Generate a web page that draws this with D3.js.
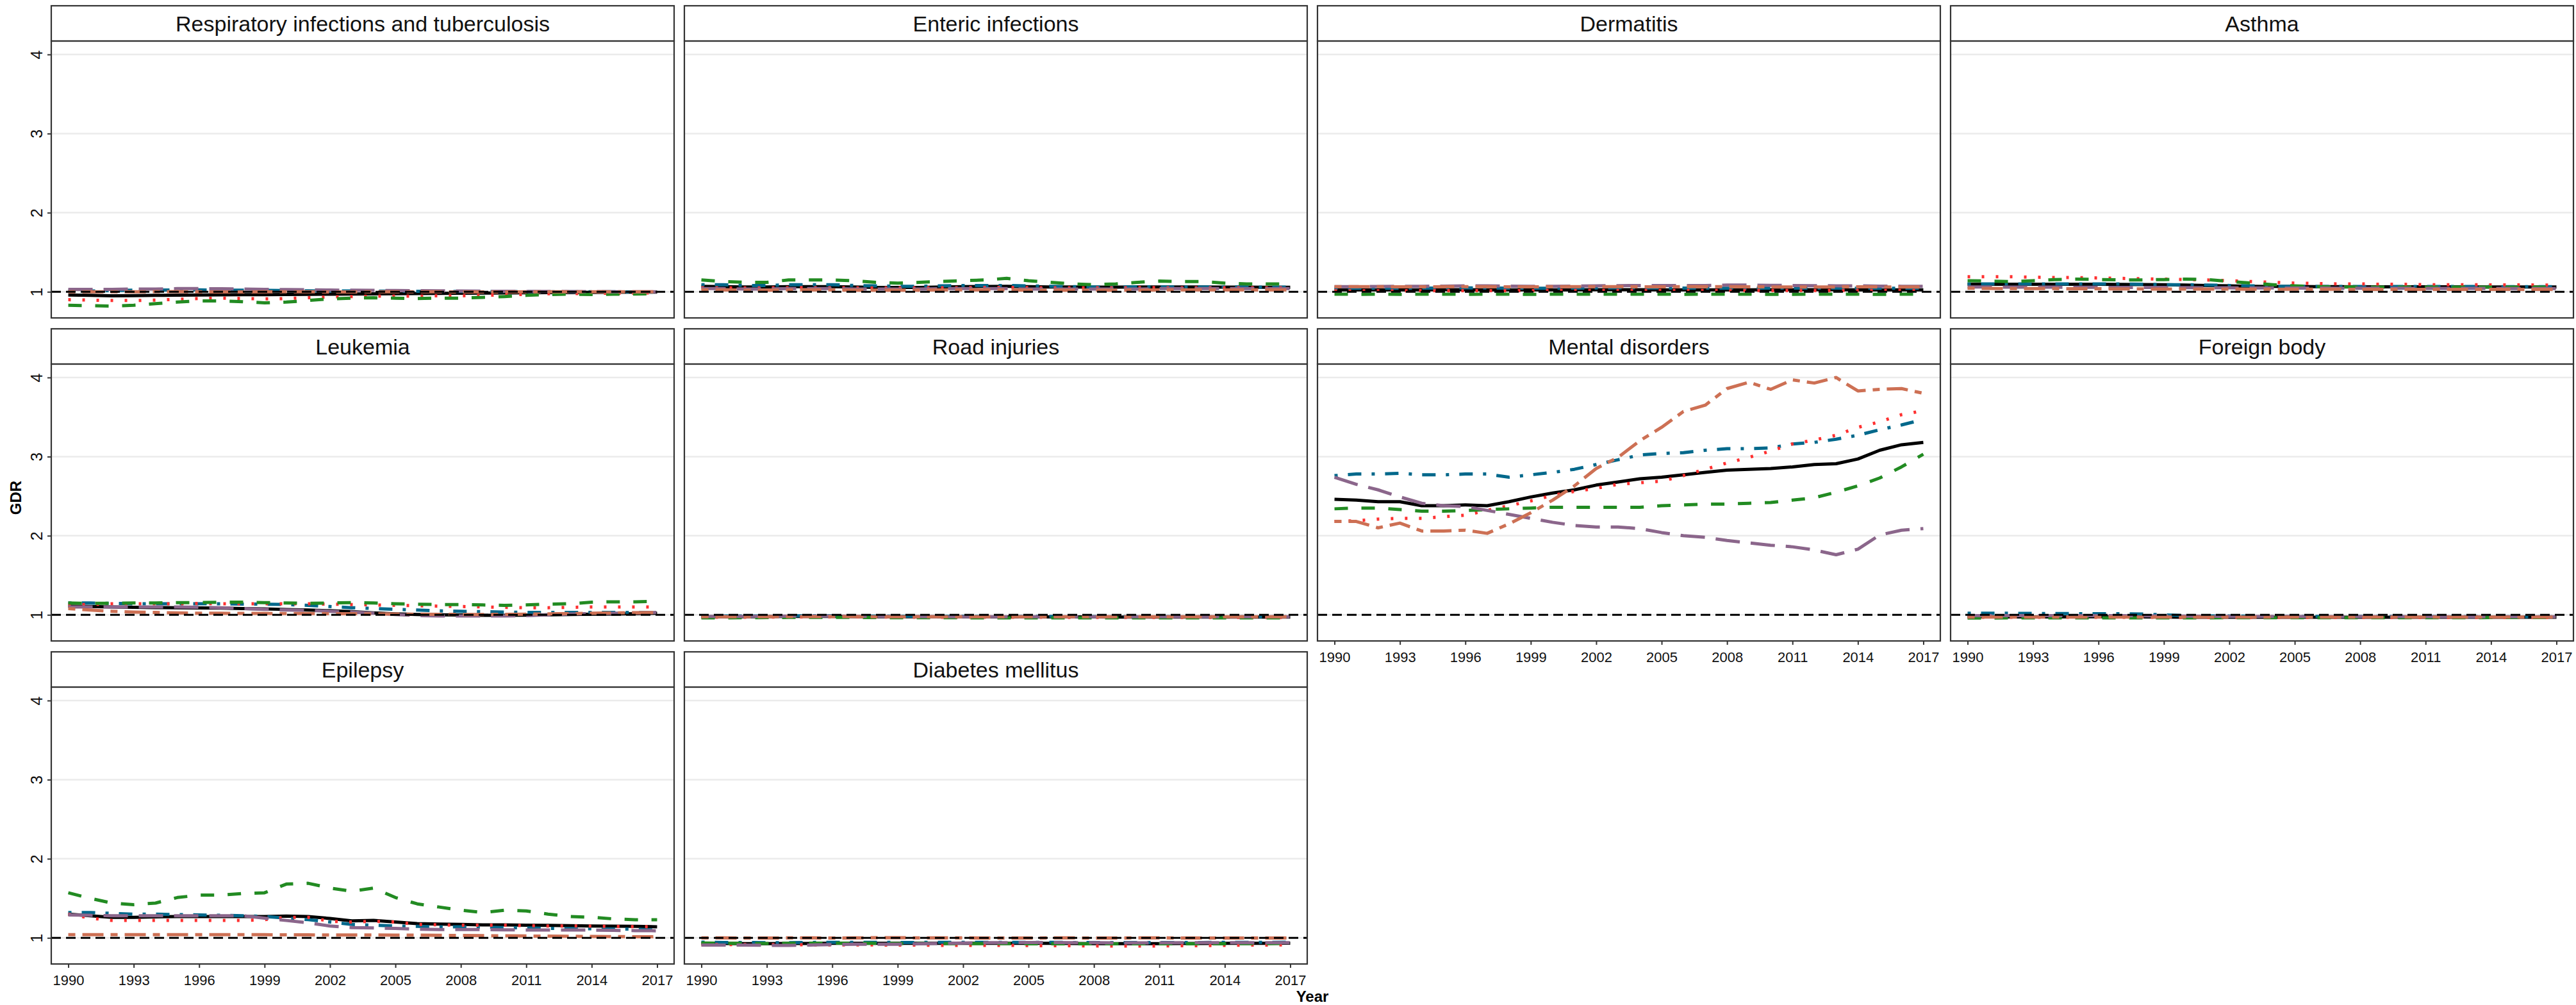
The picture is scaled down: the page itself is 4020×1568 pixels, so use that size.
<!DOCTYPE html>
<html>
<head>
<meta charset="utf-8">
<script src="https://cdn.jsdelivr.net/npm/d3@7"></script>
<style>
  body { margin: 0; background: #fff; }
  text { font-family: "Liberation Sans", Arial, sans-serif; }
</style>
</head>
<body>
<div id="chart"></div>
<script>

// ---- data ----
const years = [1990, 1991, 1992, 1993, 1994, 1995, 1996, 1997, 1998, 1999, 2000, 2001, 2002, 2003,
               2004, 2005, 2006, 2007, 2008, 2009, 2010, 2011, 2012, 2013, 2014, 2015, 2016, 2017];
const xTicks = [1990, 1993, 1996, 1999, 2002, 2005, 2008, 2011, 2014, 2017];
const yTicks = [1, 2, 3, 4];

const causes = ["Respiratory infections and tuberculosis", "Enteric infections", "Dermatitis", "Asthma",
                "Leukemia", "Road injuries", "Mental disorders", "Foreign body",
                "Epilepsy", "Diabetes mellitus"];

// six series, same order in every panel
const seriesKeys = ["black", "blue", "red", "green", "purple", "orange"];
const seriesColors = ["#000000", "#00688b", "#ff3030", "#228b22", "#8b668b", "#cd7054"];
const seriesDash = [null, "5,16,21,16", "4,18", "21,21", "38,17", "11,11,33,11"];

// Respiratory infections and tuberculosis
const respBlack  = [0.96,0.955,0.95,0.952,0.955,0.958,0.96,0.962,0.963,0.964,0.966,0.968,0.97,0.972,0.974,0.976,0.978,0.98,0.982,0.984,0.986,0.988,0.99,0.991,0.992,0.994,0.996,0.997];
const respBlue   = [1.01,1.01,1.015,1.02,1.02,1.025,1.025,1.02,1.02,1.018,1.015,1.012,1.01,1.01,1.008,1.008,1.006,1.005,1.005,1.004,1.003,1.002,1.0,1.0,1.0,1.0,0.998,0.996];
const respRed    = [0.9,0.895,0.89,0.89,0.895,0.905,0.915,0.92,0.915,0.91,0.915,0.925,0.935,0.94,0.945,0.945,0.945,0.95,0.95,0.955,0.96,0.968,0.975,0.978,0.98,0.982,0.984,0.986];
const respGreen  = [0.83,0.825,0.82,0.83,0.85,0.87,0.885,0.885,0.875,0.86,0.87,0.89,0.91,0.92,0.925,0.92,0.915,0.92,0.92,0.93,0.94,0.955,0.965,0.97,0.965,0.97,0.972,0.975];
const respPurple = [1.03,1.03,1.03,1.035,1.035,1.04,1.04,1.038,1.035,1.03,1.028,1.025,1.022,1.02,1.018,1.016,1.014,1.012,1.01,1.008,1.006,1.005,1.004,1.003,1.002,1.001,1.0,1.0];
const respOrange = [1.0,1.0,1.0,1.0,1.002,1.002,1.0,0.998,0.998,1.0,1.0,1.0,0.998,0.998,1.0,1.0,1.0,1.0,0.998,0.998,0.998,1.0,1.0,1.0,1.0,1.0,1.0,1.0];

// Enteric infections
const entBlack  = [1.07,1.065,1.06,1.06,1.065,1.065,1.065,1.06,1.055,1.055,1.055,1.06,1.065,1.068,1.07,1.065,1.06,1.06,1.058,1.058,1.06,1.06,1.06,1.06,1.058,1.058,1.056,1.056];
const entBlue   = [1.09,1.09,1.08,1.08,1.09,1.09,1.09,1.08,1.075,1.07,1.07,1.075,1.08,1.08,1.08,1.075,1.07,1.065,1.06,1.06,1.062,1.062,1.06,1.06,1.06,1.06,1.058,1.058];
const entRed    = [1.05,1.05,1.048,1.05,1.052,1.052,1.05,1.05,1.048,1.048,1.05,1.05,1.052,1.054,1.055,1.052,1.05,1.05,1.05,1.05,1.052,1.052,1.05,1.05,1.05,1.05,1.05,1.05];
const entGreen  = [1.15,1.13,1.12,1.12,1.15,1.15,1.15,1.14,1.12,1.11,1.12,1.13,1.14,1.15,1.17,1.14,1.12,1.1,1.09,1.1,1.12,1.135,1.13,1.13,1.11,1.1,1.1,1.1];
const entPurple = [1.04,1.04,1.035,1.035,1.04,1.04,1.04,1.035,1.035,1.035,1.035,1.04,1.04,1.04,1.04,1.035,1.035,1.035,1.035,1.035,1.035,1.04,1.04,1.04,1.04,1.04,1.04,1.04];
const entOrange = [1.025,1.025,1.02,1.02,1.025,1.025,1.025,1.02,1.02,1.02,1.02,1.025,1.025,1.025,1.025,1.02,1.02,1.02,1.02,1.02,1.02,1.025,1.025,1.025,1.025,1.025,1.025,1.025];

// Dermatitis
const dermBlack  = [1.025,1.025,1.024,1.024,1.025,1.026,1.026,1.025,1.025,1.024,1.024,1.025,1.026,1.026,1.026,1.025,1.025,1.025,1.025,1.025,1.026,1.026,1.026,1.026,1.025,1.025,1.025,1.025];
const dermBlue   = [1.045,1.045,1.044,1.045,1.046,1.048,1.05,1.048,1.046,1.045,1.045,1.046,1.048,1.05,1.05,1.048,1.046,1.046,1.045,1.045,1.046,1.046,1.046,1.046,1.045,1.045,1.044,1.044];
const dermRed    = [1.012,1.012,1.013,1.013,1.014,1.014,1.015,1.015,1.015,1.015,1.016,1.016,1.016,1.016,1.016,1.016,1.016,1.016,1.016,1.016,1.017,1.017,1.017,1.017,1.017,1.017,1.017,1.017];
const dermGreen  = [0.97,0.968,0.97,0.968,0.97,0.97,0.968,0.97,0.97,0.968,0.97,0.97,0.97,0.97,0.97,0.97,0.968,0.97,0.97,0.97,0.968,0.968,0.97,0.97,0.97,0.968,0.97,0.97];
const dermPurple = [1.065,1.065,1.068,1.07,1.07,1.072,1.075,1.075,1.072,1.07,1.07,1.072,1.075,1.078,1.08,1.08,1.078,1.08,1.085,1.085,1.082,1.08,1.078,1.075,1.075,1.072,1.07,1.07];
const dermOrange = [1.065,1.065,1.065,1.062,1.062,1.065,1.065,1.065,1.062,1.062,1.065,1.065,1.065,1.065,1.062,1.062,1.065,1.065,1.065,1.062,1.062,1.06,1.06,1.062,1.062,1.062,1.06,1.06];

// Asthma
const asthBlack  = [1.095,1.095,1.095,1.095,1.095,1.095,1.095,1.094,1.092,1.09,1.085,1.08,1.075,1.07,1.068,1.066,1.064,1.064,1.062,1.062,1.062,1.062,1.062,1.062,1.06,1.06,1.06,1.06];
const asthBlue   = [1.1,1.1,1.1,1.1,1.1,1.1,1.1,1.1,1.095,1.09,1.09,1.085,1.08,1.075,1.07,1.07,1.068,1.068,1.068,1.066,1.066,1.066,1.066,1.066,1.066,1.065,1.065,1.065];
const asthRed    = [1.19,1.19,1.19,1.185,1.18,1.18,1.175,1.17,1.165,1.16,1.155,1.15,1.14,1.13,1.12,1.11,1.105,1.1,1.1,1.095,1.095,1.09,1.09,1.09,1.088,1.088,1.086,1.085];
const asthGreen  = [1.14,1.135,1.13,1.14,1.155,1.16,1.155,1.15,1.15,1.155,1.16,1.155,1.13,1.11,1.09,1.075,1.065,1.06,1.06,1.058,1.058,1.058,1.058,1.058,1.058,1.058,1.058,1.058];
const asthPurple = [1.06,1.06,1.058,1.058,1.058,1.056,1.056,1.055,1.055,1.054,1.052,1.05,1.05,1.048,1.048,1.046,1.046,1.045,1.045,1.044,1.044,1.043,1.043,1.042,1.042,1.041,1.04,1.04];
const asthOrange = [1.045,1.042,1.04,1.04,1.04,1.038,1.038,1.036,1.036,1.035,1.035,1.034,1.034,1.033,1.033,1.032,1.032,1.032,1.03,1.03,1.03,1.03,1.03,1.03,1.03,1.03,1.03,1.03];

// Leukemia
const leukBlack  = [1.11,1.105,1.1,1.095,1.092,1.09,1.088,1.085,1.08,1.075,1.068,1.06,1.052,1.04,1.025,1.012,1.005,1.0,0.998,0.995,0.995,0.997,1.0,1.005,1.008,1.01,1.015,1.02];
const leukBlue   = [1.15,1.15,1.145,1.14,1.14,1.14,1.14,1.14,1.135,1.135,1.13,1.12,1.105,1.09,1.08,1.07,1.06,1.05,1.045,1.04,1.035,1.03,1.03,1.03,1.03,1.03,1.03,1.03];
const leukRed    = [1.13,1.13,1.14,1.14,1.14,1.14,1.145,1.14,1.14,1.14,1.14,1.14,1.135,1.13,1.125,1.12,1.115,1.11,1.105,1.1,1.095,1.09,1.09,1.095,1.1,1.1,1.1,1.1];
const leukGreen  = [1.15,1.145,1.145,1.15,1.15,1.155,1.155,1.16,1.16,1.155,1.15,1.145,1.15,1.155,1.15,1.14,1.135,1.13,1.13,1.125,1.12,1.125,1.135,1.14,1.16,1.165,1.165,1.17];
const leukPurple = [1.1,1.1,1.1,1.1,1.1,1.1,1.095,1.09,1.08,1.07,1.06,1.055,1.045,1.035,1.02,1.005,0.99,0.985,0.985,0.985,0.985,0.99,1.0,1.01,1.015,1.02,1.025,1.03];
const leukOrange = [1.08,1.06,1.045,1.035,1.03,1.025,1.02,1.02,1.018,1.018,1.016,1.016,1.015,1.015,1.012,1.01,1.008,1.006,1.005,1.005,1.006,1.008,1.012,1.016,1.02,1.024,1.027,1.03];

// Road injuries
const roadBlack  = [0.975,0.975,0.975,0.978,0.98,0.98,0.98,0.978,0.976,0.975,0.975,0.975,0.975,0.974,0.974,0.974,0.973,0.973,0.973,0.972,0.972,0.972,0.972,0.972,0.972,0.972,0.972,0.972];
const roadBlue   = [0.985,0.985,0.985,0.986,0.988,0.988,0.987,0.985,0.984,0.983,0.982,0.982,0.981,0.98,0.98,0.98,0.979,0.978,0.978,0.978,0.977,0.977,0.977,0.976,0.976,0.976,0.976,0.976];
const roadRed    = [0.97,0.97,0.97,0.972,0.974,0.975,0.975,0.974,0.972,0.97,0.97,0.97,0.97,0.97,0.969,0.969,0.969,0.968,0.968,0.968,0.968,0.968,0.968,0.968,0.968,0.968,0.968,0.968];
const roadGreen  = [0.962,0.962,0.963,0.965,0.967,0.968,0.968,0.967,0.965,0.964,0.963,0.963,0.963,0.962,0.962,0.962,0.962,0.962,0.962,0.962,0.962,0.962,0.962,0.962,0.962,0.962,0.962,0.962];
const roadPurple = [0.98,0.98,0.98,0.982,0.984,0.985,0.984,0.982,0.98,0.978,0.977,0.976,0.975,0.975,0.975,0.975,0.975,0.975,0.975,0.975,0.975,0.975,0.975,0.975,0.975,0.975,0.975,0.975];
const roadOrange = [0.975,0.975,0.975,0.976,0.978,0.978,0.978,0.977,0.976,0.975,0.975,0.975,0.975,0.975,0.975,0.975,0.975,0.975,0.975,0.975,0.975,0.975,0.975,0.975,0.975,0.975,0.975,0.975];

// Mental disorders
const mentBlack  = [2.46,2.45,2.43,2.43,2.38,2.38,2.39,2.38,2.43,2.49,2.54,2.58,2.64,2.68,2.72,2.74,2.77,2.80,2.83,2.84,2.85,2.87,2.90,2.91,2.97,3.08,3.15,3.18];
const mentBlue   = [2.76,2.78,2.78,2.79,2.77,2.77,2.78,2.78,2.74,2.77,2.80,2.84,2.90,2.96,3.02,3.04,3.05,3.08,3.10,3.10,3.11,3.16,3.18,3.22,3.27,3.34,3.40,3.47];
const mentRed    = [2.18,2.19,2.21,2.22,2.22,2.24,2.26,2.32,2.38,2.44,2.51,2.56,2.60,2.65,2.67,2.69,2.76,2.84,2.92,2.99,3.07,3.16,3.21,3.27,3.37,3.44,3.53,3.58];
const mentGreen  = [2.34,2.35,2.35,2.33,2.31,2.31,2.32,2.33,2.34,2.35,2.36,2.36,2.36,2.36,2.36,2.38,2.39,2.40,2.40,2.41,2.42,2.45,2.48,2.55,2.63,2.73,2.87,3.03];
const mentPurple = [2.74,2.65,2.58,2.49,2.41,2.38,2.37,2.32,2.27,2.22,2.17,2.13,2.11,2.11,2.09,2.04,2.00,1.98,1.94,1.91,1.88,1.86,1.82,1.76,1.83,2.01,2.07,2.09];
const mentOrange = [2.18,2.18,2.10,2.16,2.06,2.06,2.07,2.03,2.15,2.29,2.45,2.63,2.85,2.99,3.20,3.37,3.57,3.65,3.86,3.94,3.85,3.97,3.93,4.0,3.83,3.85,3.86,3.80];

// Foreign body
const forBlack  = [0.975,0.975,0.974,0.974,0.974,0.975,0.975,0.975,0.974,0.972,0.97,0.97,0.97,0.97,0.97,0.97,0.97,0.97,0.97,0.97,0.97,0.97,0.97,0.97,0.97,0.97,0.97,0.97];
const forBlue   = [1.02,1.02,1.02,1.018,1.016,1.015,1.015,1.015,1.01,1.0,0.99,0.985,0.985,0.982,0.98,0.98,0.98,0.98,0.98,0.98,0.978,0.978,0.978,0.978,0.976,0.976,0.976,0.975];
const forRed    = [0.97,0.97,0.97,0.97,0.97,0.97,0.97,0.97,0.97,0.968,0.966,0.966,0.966,0.966,0.966,0.966,0.966,0.966,0.966,0.966,0.966,0.966,0.966,0.966,0.966,0.966,0.966,0.966];
const forGreen  = [0.96,0.96,0.961,0.961,0.962,0.962,0.962,0.962,0.962,0.962,0.962,0.962,0.963,0.963,0.963,0.963,0.963,0.963,0.964,0.964,0.964,0.964,0.964,0.964,0.965,0.965,0.965,0.965];
const forPurple = [0.99,0.99,0.99,0.99,0.99,0.99,0.99,0.99,0.988,0.986,0.984,0.982,0.98,0.98,0.98,0.98,0.978,0.978,0.978,0.978,0.978,0.978,0.976,0.976,0.976,0.976,0.976,0.976];
const forOrange = [0.972,0.972,0.972,0.972,0.972,0.972,0.972,0.972,0.972,0.972,0.972,0.972,0.972,0.972,0.972,0.972,0.972,0.972,0.972,0.972,0.972,0.972,0.972,0.972,0.972,0.972,0.972,0.972];

// Epilepsy
const epiBlack  = [1.3,1.28,1.26,1.26,1.265,1.27,1.27,1.27,1.27,1.27,1.275,1.27,1.245,1.215,1.22,1.2,1.18,1.175,1.17,1.165,1.165,1.16,1.158,1.155,1.15,1.148,1.145,1.14];
const epiBlue   = [1.32,1.32,1.31,1.3,1.3,1.295,1.29,1.285,1.28,1.27,1.25,1.23,1.2,1.17,1.16,1.15,1.145,1.14,1.14,1.135,1.13,1.125,1.12,1.118,1.115,1.112,1.11,1.1];
const epiRed    = [1.3,1.25,1.22,1.22,1.22,1.22,1.22,1.22,1.22,1.23,1.26,1.26,1.21,1.2,1.21,1.2,1.17,1.165,1.16,1.16,1.16,1.155,1.15,1.15,1.148,1.145,1.142,1.14];
const epiGreen  = [1.57,1.5,1.44,1.42,1.44,1.51,1.54,1.54,1.56,1.57,1.68,1.69,1.63,1.59,1.63,1.51,1.43,1.39,1.35,1.32,1.35,1.34,1.3,1.27,1.26,1.24,1.23,1.23];
const epiPurple = [1.29,1.285,1.28,1.28,1.28,1.28,1.28,1.28,1.28,1.25,1.22,1.19,1.15,1.13,1.125,1.12,1.11,1.105,1.105,1.105,1.102,1.1,1.1,1.1,1.098,1.095,1.092,1.09];
const epiOrange = [1.04,1.04,1.04,1.04,1.04,1.04,1.04,1.04,1.04,1.04,1.038,1.038,1.036,1.036,1.036,1.035,1.034,1.032,1.03,1.028,1.026,1.024,1.022,1.02,1.018,1.016,1.015,1.015];

// Diabetes mellitus
const diabBlack  = [0.932,0.93,0.928,0.928,0.93,0.93,0.932,0.932,0.932,0.932,0.932,0.932,0.932,0.932,0.932,0.932,0.932,0.93,0.928,0.928,0.928,0.928,0.93,0.93,0.932,0.932,0.932,0.934];
const diabBlue   = [0.945,0.942,0.942,0.94,0.94,0.942,0.944,0.944,0.944,0.942,0.942,0.944,0.944,0.944,0.944,0.944,0.944,0.942,0.942,0.942,0.942,0.942,0.942,0.942,0.944,0.944,0.944,0.945];
const diabRed    = [0.915,0.915,0.915,0.915,0.915,0.912,0.912,0.912,0.91,0.91,0.908,0.905,0.905,0.905,0.905,0.903,0.9,0.9,0.898,0.897,0.897,0.898,0.9,0.902,0.905,0.908,0.91,0.912];
const diabGreen  = [0.935,0.932,0.93,0.93,0.932,0.934,0.934,0.934,0.932,0.93,0.93,0.928,0.928,0.928,0.928,0.926,0.925,0.925,0.925,0.925,0.925,0.925,0.926,0.926,0.926,0.928,0.928,0.93];
const diabPurple = [0.91,0.91,0.91,0.905,0.905,0.91,0.915,0.92,0.92,0.92,0.925,0.93,0.935,0.94,0.94,0.942,0.942,0.94,0.94,0.938,0.938,0.938,0.94,0.94,0.94,0.94,0.94,0.94];
const diabOrange = [1.0,1.0,0.998,0.998,1.0,1.0,0.998,1.0,1.002,1.002,1.0,1.0,1.0,0.998,0.998,0.998,1.0,1.0,0.998,0.998,1.0,1.0,0.998,0.998,0.998,0.998,0.998,0.998];

// one row per panel, series in seriesKeys order
const panelSeries = [
  [respBlack, respBlue, respRed, respGreen, respPurple, respOrange],
  [entBlack, entBlue, entRed, entGreen, entPurple, entOrange],
  [dermBlack, dermBlue, dermRed, dermGreen, dermPurple, dermOrange],
  [asthBlack, asthBlue, asthRed, asthGreen, asthPurple, asthOrange],
  [leukBlack, leukBlue, leukRed, leukGreen, leukPurple, leukOrange],
  [roadBlack, roadBlue, roadRed, roadGreen, roadPurple, roadOrange],
  [mentBlack, mentBlue, mentRed, mentGreen, mentPurple, mentOrange],
  [forBlack, forBlue, forRed, forGreen, forPurple, forOrange],
  [epiBlack, epiBlue, epiRed, epiGreen, epiPurple, epiOrange],
  [diabBlack, diabBlue, diabRed, diabGreen, diabPurple, diabOrange]
];

// ---- layout ----
const width = 4020;
const height = 1568;
const nCols = 4;
const plotLeft = 80;
const colStep = 988;
const panelW = 972;
const rowTop = 9;
const rowStep = 504;
const stripH = 55;
const panelH = 432;

const xScale = d3.scaleLinear()
  .domain([1990 - 0.78, 2017 + 0.78])
  .range([0, panelW]);
const yScale = d3.scaleLinear()
  .domain([0.67, 4.17])
  .range([panelH, 0]);

const makeLine = d3.line()
  .x((d, i) => xScale(years[i]))
  .y(d => yScale(d));

const svg = d3.select("#chart")
  .append("svg")
  .attr("width", width)
  .attr("height", height)
  .style("background", "#fff");

causes.forEach((cause, p) => {
  const r = Math.floor(p / nCols);
  const c = p % nCols;
  const g = svg.append("g")
    .attr("transform", `translate(${plotLeft + c * colStep}, ${rowTop + r * rowStep})`);

  // strip
  g.append("rect")
    .attr("width", panelW).attr("height", stripH)
    .attr("fill", "#fff").attr("stroke", "#333").attr("stroke-width", 2.2);
  g.append("text")
    .attr("x", panelW / 2).attr("y", stripH / 2 + 12)
    .attr("text-anchor", "middle")
    .attr("font-size", 34)
    .attr("fill", "#111")
    .text(cause);

  const pg = g.append("g").attr("transform", `translate(0, ${stripH})`);

  // grid
  pg.append("g").selectAll("line").data(yTicks).enter()
    .append("line")
    .attr("x1", 0).attr("x2", panelW)
    .attr("y1", d => yScale(d)).attr("y2", d => yScale(d))
    .attr("stroke", "#ebebeb").attr("stroke-width", 2.5);

  // series lines
  pg.append("g").selectAll("path").data(panelSeries[p]).enter()
    .append("path")
    .attr("id", (d, i) => `p${p}-${seriesKeys[i]}`)
    .attr("fill", "none")
    .attr("stroke", (d, i) => seriesColors[i])
    .attr("stroke-width", 5)
    .attr("stroke-linejoin", "round")
    .attr("stroke-linecap", "butt")
    .attr("stroke-dasharray", (d, i) => seriesDash[i])
    .attr("d", d => makeLine(d));

  // reference line at GDR = 1
  pg.append("line")
    .attr("x1", 0).attr("x2", panelW)
    .attr("y1", yScale(1)).attr("y2", yScale(1))
    .attr("stroke", "#000").attr("stroke-width", 3)
    .attr("stroke-dasharray", "15,8");

  // panel border
  pg.append("rect")
    .attr("width", panelW).attr("height", panelH)
    .attr("fill", "none").attr("stroke", "#333").attr("stroke-width", 2.2);

  // y axis only in first column, labels rotated
  if (c === 0) {
    const ya = pg.append("g")
      .call(d3.axisLeft(yScale).tickValues(yTicks).tickSize(6).tickFormat(d3.format("d")));
    ya.select(".domain").remove();
    ya.selectAll("line").attr("stroke", "#333").attr("stroke-width", 2);
    ya.selectAll("text")
      .attr("transform", "rotate(-90)")
      .attr("x", 0).attr("y", -14).attr("dy", 0)
      .attr("text-anchor", "middle")
      .attr("font-size", 25)
      .attr("fill", "#111");
  }

  // x axis where no panel sits below
  if (p + nCols >= causes.length) {
    const xa = pg.append("g")
      .attr("transform", `translate(0, ${panelH})`)
      .call(d3.axisBottom(xScale).tickValues(xTicks).tickSize(6).tickPadding(11).tickFormat(d3.format("d")));
    xa.select(".domain").remove();
    xa.selectAll("line").attr("stroke", "#333").attr("stroke-width", 2);
    xa.selectAll("text").attr("font-size", 22).attr("fill", "#111");
  }
});

// axis titles
svg.append("text")
  .attr("transform", `translate(33, ${rowTop + stripH + (2 * rowStep + panelH) / 2 - stripH / 2 + 20}) rotate(-90)`)
  .attr("text-anchor", "middle")
  .attr("font-size", 24)
  .attr("font-weight", "bold")
  .text("GDR");

svg.append("text")
  .attr("x", plotLeft + (3 * colStep + panelW) / 2)
  .attr("y", 1563)
  .attr("text-anchor", "middle")
  .attr("font-size", 24)
  .attr("font-weight", "bold")
  .text("Year");

</script>
</body>
</html>
